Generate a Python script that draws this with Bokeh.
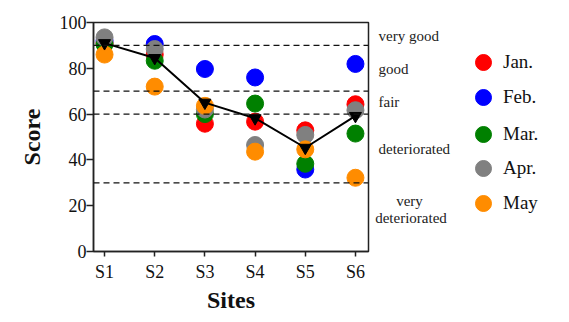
from bokeh.plotting import figure
from bokeh.models import Range1d, FixedTicker, Span, Label, Legend, LegendItem
from bokeh.layouts import row
from bokeh.embed import file_html
from bokeh.resources import INLINE

sites = ["S1", "S2", "S3", "S4", "S5", "S6"]
jan = [91, 86, 55.8, 56.7, 52.9, 64.3]
feb = [92, 90.6, 79.7, 76, 35.8, 81.9]
mar = [90.5, 83.3, 60, 64.6, 38.3, 51.5]
apr = [93.5, 88.4, 62, 46.5, 50.9, 61.7]
may = [86, 72, 63.6, 43.6, 44.6, 32.2]
mean = [91, 84.5, 65, 58.2, 45.3, 59.2]
months = ["Jan.", "Feb.", "Mar.", "Apr.", "May"]
colors = ["#ff0000", "#0000ff", "#008000", "#808080", "#ff8c00"]
thresholds = [90, 70, 60, 30]
yticks = [0, 20, 40, 60, 80, 100]

FONT = "Liberation Serif"
H = 316
TOP, BOTTOM = 22, 251   # frame edges in page pixels
xs = list(range(1, len(sites) + 1))
series = [jan, feb, mar, apr, may]

p = figure(width=370, height=H, output_backend="svg", toolbar_location=None,
           x_range=Range1d(0.78, 6.26), y_range=Range1d(0, 100),
           min_border_left=93, min_border_right=2, min_border_top=TOP,
           min_border_bottom=H - BOTTOM)
p.xgrid.visible = False
p.ygrid.visible = False
p.outline_line_color = "#222222"
p.outline_line_width = 1.5

for ax in (p.xaxis[0], p.yaxis[0]):
    ax.axis_line_color = "#222222"
    ax.axis_line_width = 1.5
    ax.major_tick_line_color = "#222222"
    ax.major_tick_line_width = 1.5
    ax.minor_tick_line_color = None
    ax.major_tick_in = 0
    ax.major_label_text_font = FONT
    ax.major_label_text_font_size = "18px"
    ax.major_label_text_color = "#111111"
    ax.axis_label_text_font = FONT
    ax.axis_label_text_font_size = "24px"
    ax.axis_label_text_font_style = "bold"
    ax.axis_label_text_color = "#111111"

p.xaxis.ticker = FixedTicker(ticks=xs)
p.xaxis.major_label_overrides = {x: s for x, s in zip(xs, sites)}
p.xaxis.major_tick_out = 5
p.xaxis.major_label_standoff = 5
p.xaxis.axis_label = "Sites"
p.xaxis.axis_label_standoff = 2

p.yaxis.ticker = FixedTicker(ticks=yticks)
p.yaxis.major_tick_out = 7
p.yaxis.major_label_standoff = 0
p.yaxis.axis_label = "Score"
p.yaxis.axis_label_standoff = 12

for t in thresholds:
    p.add_layout(Span(location=t, dimension="width", line_color="#111111",
                      line_width=1.3, line_dash="6 4"))

for c, vals in zip(colors, series):
    p.scatter(xs, vals, size=17, marker="circle", fill_color=c, line_color=c)

p.line(xs, mean, line_color="black", line_width=2)
p.scatter(xs, mean, marker="inverted_triangle", size=12, fill_color="black", line_color="black")

# right-hand panel: class names and legend (page-pixel coordinates, y downwards)
p2 = figure(width=199, height=H, output_backend="svg", toolbar_location=None,
            x_range=Range1d(0, 199), y_range=Range1d(BOTTOM, TOP),
            x_axis_type=None, y_axis_type=None,
            min_border_left=0, min_border_right=0, min_border_top=TOP,
            min_border_bottom=H - BOTTOM)
p2.xgrid.visible = False
p2.ygrid.visible = False
p2.outline_line_color = None

class_labels = [("very good", 8, 35.7, "left"), ("good", 8, 68, "left"),
                ("fair", 8, 101.7, "left"), ("deteriorated", 8, 148, "left"),
                ("very", 39, 200.7, "center"), ("deteriorated", 40.5, 217, "center")]
for txt, lx, ly, al in class_labels:
    p2.add_layout(Label(x=lx, y=ly, x_units="data", y_units="data", text=txt,
                        text_font=FONT, text_font_size="15px", text_color="#222222",
                        text_baseline="middle", text_align=al))

legend_y = [61.7, 97, 133.5, 168, 203]
for m, c, vals, yc in zip(months, colors, series, legend_y):
    r = p2.scatter(xs, vals, size=16, marker="circle", fill_color=c, line_color=c, visible=False)
    lg = Legend(items=[LegendItem(label=m, renderers=[r])],
                location=(93, BOTTOM - (yc + 20)), orientation="vertical",
                glyph_width=40, glyph_height=40, padding=0, margin=0,
                label_standoff=0, label_text_font=FONT, label_text_font_size="19px",
                label_text_color="#111111", border_line_color=None,
                background_fill_alpha=0)
    p2.add_layout(lg, "center")

layout = row(p, p2)
open("out.html", "w").write(file_html(layout, INLINE))
